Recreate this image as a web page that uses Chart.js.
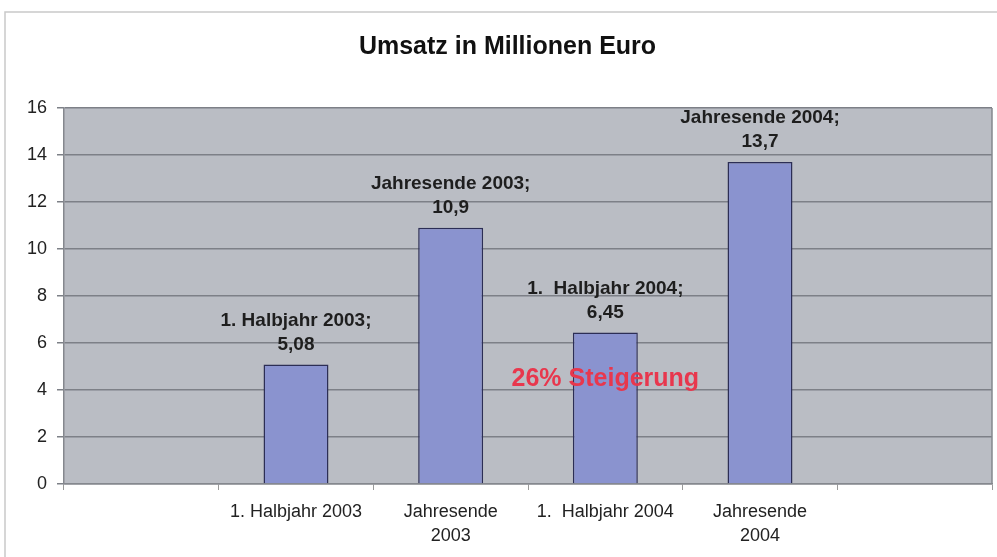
<!DOCTYPE html>
<html>
<head>
<meta charset="utf-8">
<script src="https://cdn.jsdelivr.net/npm/chart.js@4"></script>
<style>
html,body{margin:0;padding:0;background:#fff;}
#wrap{width:997px;height:557px;position:relative;}
</style>
</head>
<body>
<div id="wrap"><canvas id="c" width="997" height="557"></canvas></div>
<script>
const chartTitle = 'Umsatz in Millionen Euro';
const categories = ['', '1. Halbjahr 2003', ['Jahresende', '2003'], '1.  Halbjahr 2004', ['Jahresende', '2004'], ''];
const barNames = ['', '1. Halbjahr 2003;', 'Jahresende 2003;', '1.  Halbjahr 2004;', 'Jahresende 2004;', ''];
const umsatz = [null, 5.08, 10.9, 6.45, 13.7, null];
const yTicks = [0, 2, 4, 6, 8, 10, 12, 14, 16];
const noteText = '26% Steigerung';
const noteCategory = 3;
const noteValue = 4.47;

const FONT = '"Liberation Sans", Arial, sans-serif';

const framePlugin = {
  id: 'frame',
  beforeDraw(chart) {
    const ctx = chart.ctx, a = chart.chartArea;
    ctx.save();
    ctx.fillStyle = '#ffffff';
    ctx.fillRect(0, 0, chart.width, chart.height);
    ctx.strokeStyle = '#c9c9c9';
    ctx.lineWidth = 1.5;
    ctx.strokeRect(5, 12, chart.width + 20, chart.height + 20);
    ctx.fillStyle = '#babdc4';
    ctx.fillRect(a.left, a.top, a.right - a.left, a.bottom - a.top);
    ctx.restore();
  },
  afterDraw(chart) {
    const ctx = chart.ctx, a = chart.chartArea;
    ctx.save();
    ctx.strokeStyle = '#85888e';
    ctx.lineWidth = 1.5;
    ctx.beginPath();
    ctx.moveTo(a.right, a.top);
    ctx.lineTo(a.right, a.bottom);
    ctx.stroke();
    ctx.restore();
  }
};

const labelPlugin = {
  id: 'barLabels',
  afterDatasetsDraw(chart) {
    const ctx = chart.ctx;
    const meta = chart.getDatasetMeta(0);
    ctx.save();
    ctx.fillStyle = '#1e1e1e';
    ctx.font = 'bold 19px ' + FONT;
    ctx.textAlign = 'center';
    ctx.textBaseline = 'middle';
    meta.data.forEach((bar, i) => {
      const v = umsatz[i];
      if (v === null) return;
      const x = bar.x, top = bar.y;
      ctx.fillText(String(v).replace('.', ','), x, top - 20);
      ctx.fillText(barNames[i], x, top - 44);
    });
    const xs = chart.scales.x, ys = chart.scales.y;
    ctx.fillStyle = '#e8374d';
    ctx.font = 'bold 25px ' + FONT;
    ctx.fillText(noteText, xs.getPixelForValue(noteCategory), ys.getPixelForValue(noteValue));
    ctx.restore();
  }
};

new Chart(document.getElementById('c'), {
  type: 'bar',
  data: {
    labels: categories,
    datasets: [{
      data: umsatz,
      backgroundColor: '#8a93cf',
      borderColor: '#2c2e55',
      borderWidth: 1.5,
      barPercentage: 0.42,
      categoryPercentage: 1.0
    }]
  },
  options: {
    responsive: false,
    animation: false,
    devicePixelRatio: 1,
    layout: { padding: { left: 23, right: 5, top: 0, bottom: 0 } },
    plugins: {
      legend: { display: false },
      tooltip: { enabled: false },
      title: {
        display: true,
        text: chartTitle,
        color: '#111111',
        font: { family: FONT, size: 25, weight: 'bold', lineHeight: 1.2 },
        padding: { top: 32, bottom: 46 }
      }
    },
    scales: {
      x: {
        offset: true,
        grid: {
          display: true,
          offset: true,
          drawOnChartArea: false,
          drawTicks: true,
          tickLength: 6,
          color: '#9a9a9a'
        },
        border: { display: true, color: '#85888e', width: 1.5 },
        ticks: {
          color: '#222222',
          padding: 10,
          maxRotation: 0,
          autoSkip: false,
          font: { family: FONT, size: 18, lineHeight: 1.33 }
        },
        afterFit(s) { s.height = 73; }
      },
      y: {
        min: 0,
        max: 16,
        afterBuildTicks(s) { s.ticks = yTicks.map(v => ({ value: v })); },
        grid: {
          color: '#7d8087',
          lineWidth: 1.5,
          drawTicks: true,
          tickLength: 7
        },
        border: { display: true, color: '#85888e', width: 1.5 },
        ticks: {
          color: '#222222',
          padding: 10,
          font: { family: FONT, size: 18 }
        },
        afterFit(s) { s.width = 41; }
      }
    }
  },
  plugins: [framePlugin, labelPlugin]
});
</script>
</body>
</html>
